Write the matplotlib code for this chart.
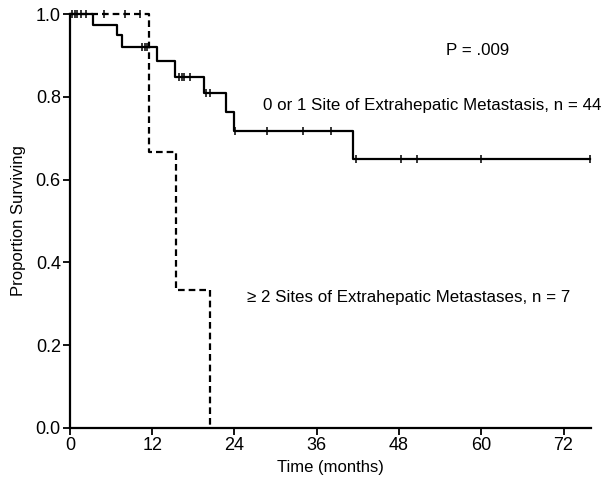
import matplotlib
matplotlib.use("Agg")
import matplotlib.pyplot as plt
import numpy as np

plt.rcParams['font.family'] = ['Liberation Sans', 'DejaVu Sans']

# 0 or 1 site group: event times (months) and survival after each step
low_times = [0, 3.4, 6.8, 7.6, 12.7, 15.4, 19.5, 22.7, 24.0, 41.3]
low_surv = [1.0, 0.973, 0.949, 0.920, 0.886, 0.848, 0.809, 0.763, 0.717, 0.650]
low_end = 75.8
low_censor = [0.3, 0.7, 1.1, 10.5, 10.9, 11.2, 15.9, 16.3, 16.6, 17.5,
              19.9, 20.5, 24.1, 28.7, 34.0, 38.1, 41.7, 48.3, 50.6, 59.9, 75.8]

# >= 2 sites group
high_times = [0, 11.6, 15.5, 20.4]
high_surv = [1.0, 0.667, 0.333, 0.0]
high_end = 20.4
high_censor = [1.6, 2.4, 5.0, 8.0, 10.2]


def step_at(t, times, surv):
    i = np.searchsorted(times, t, side='right') - 1
    return np.array(surv)[i]


fig = plt.figure(figsize=(6.13, 4.83), dpi=100)
ax = fig.add_axes([0.114, 0.114, 0.850, 0.857])

lx = low_times + [low_end]
ly = low_surv + [low_surv[-1]]
ax.plot(lx, ly, drawstyle='steps-post', color='black', lw=1.6, clip_on=False)
ax.plot(low_censor, step_at(low_censor, low_times, low_surv), ls='none',
        marker='|', ms=6, mew=1.1, color='black', clip_on=False)

hx = high_times + [high_end]
hy = high_surv + [high_surv[-1]]
ax.plot(hx, hy, drawstyle='steps-post', color='black', lw=1.6,
        dashes=(3, 1.8), clip_on=False)
ax.plot(high_censor, step_at(high_censor, high_times, high_surv), ls='none',
        marker='|', ms=6, mew=1.1, color='black', clip_on=False)

ax.set_xlim(0, 76)
ax.set_ylim(0, 1.0)
ax.set_xticks(np.arange(0, 73, 12))
ax.set_yticks(np.arange(0, 1.01, 0.2))
ax.yaxis.set_major_formatter(matplotlib.ticker.FormatStrFormatter('%.1f'))
ax.tick_params(direction='out', length=5, width=1.3, labelsize=13, pad=1.5)
for s in ['top', 'right']:
    ax.spines[s].set_visible(False)
for s in ['left', 'bottom']:
    ax.spines[s].set_linewidth(1.6)

ax.set_xlabel('Time (months)', fontsize=12, labelpad=4)
ax.set_ylabel('Proportion Surviving', fontsize=12, labelpad=7)

ax.text(59.5, 0.913, 'P = .009', fontsize=12.2, ha='center', va='center')
ax.text(52.9, 0.780, '0 or 1 Site of Extrahepatic Metastasis, n = 44',
        fontsize=12.2, ha='center', va='center')
ax.text(49.4, 0.314, '\u2265 2 Sites of Extrahepatic Metastases, n = 7',
        fontsize=12.2, ha='center', va='center')

plt.savefig('out.png', dpi=100)
